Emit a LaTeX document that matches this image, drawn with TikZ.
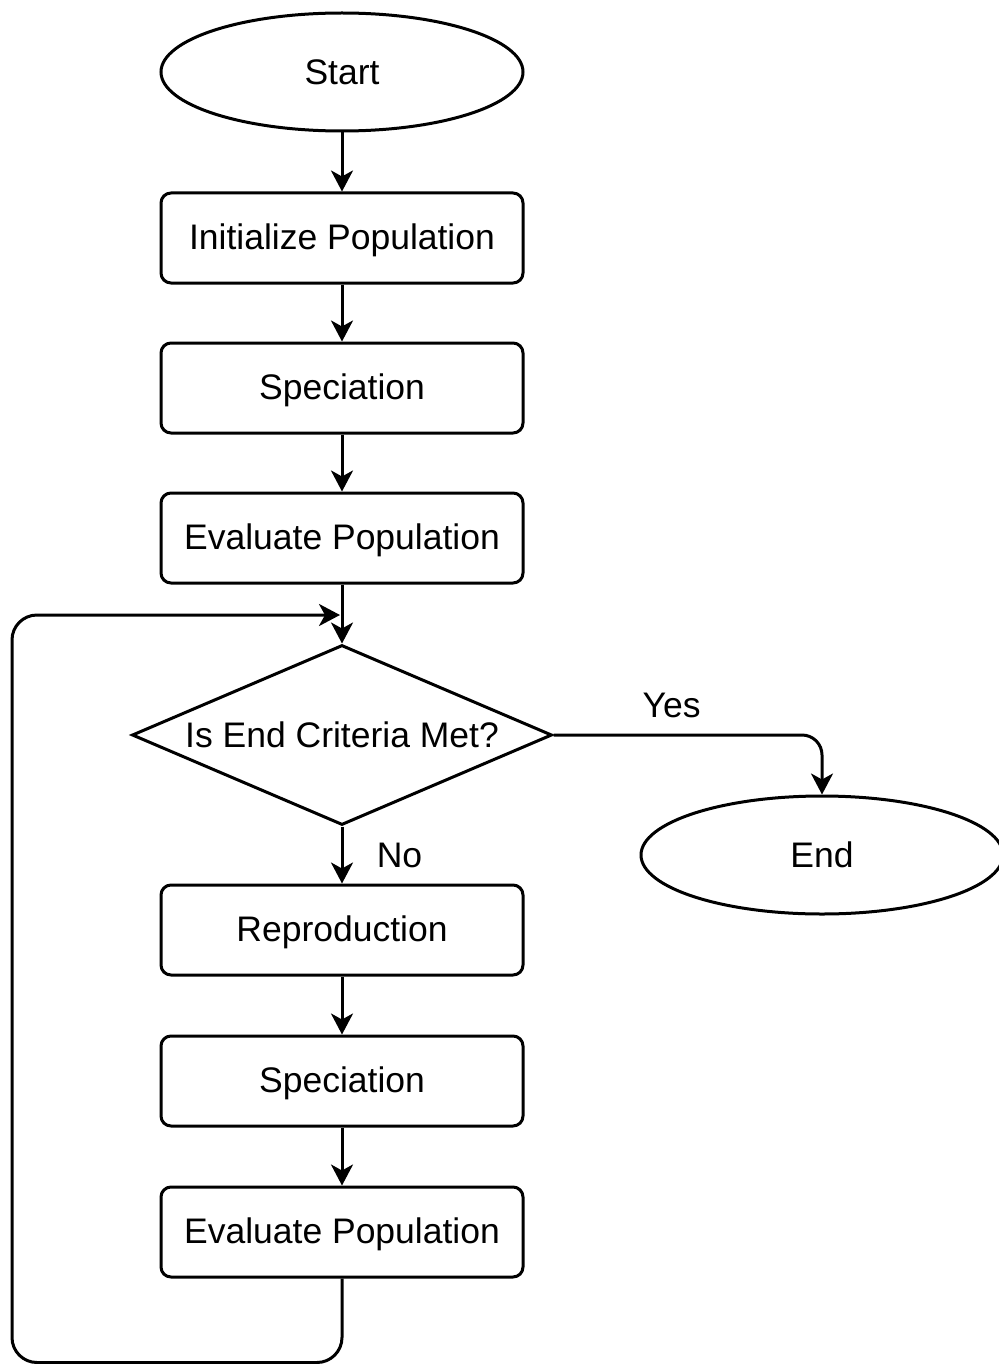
\documentclass[tikz,border=0pt]{standalone}
\usepackage{fontspec}
\setmainfont{Liberation Sans}
\usetikzlibrary{arrows.meta,positioning,shapes.geometric}

\begin{document}
\begin{tikzpicture}[x=1pt,y=-1pt,
        every node/.style={font=\fontsize{35.5}{42}\selectfont},
        procbox/.style={draw,line width=3pt,rounded corners=10pt,minimum width=362pt,minimum height=90pt,inner sep=0pt,text depth=2pt},
        termbox/.style={draw,line width=3pt,ellipse,minimum width=362pt,minimum height=118pt,inner sep=0pt},
        decbox/.style={draw,line width=3pt,diamond,aspect=2.33,minimum width=420pt,minimum height=180pt,inner sep=0pt},
        arr/.style={line width=3pt,-{Stealth[length=21pt,width=22pt,inset=6pt]}}]
    \useasboundingbox (0,0) rectangle (998,1364);

    % main column
    \node[termbox] (start) at (342,72) {Start};
    \node[procbox] (init) at (342,238) {Initialize Population};
    \node[procbox] (spec1) at (342,388) {Speciation};
    \node[procbox] (eval1) at (342,538) {Evaluate Population};
    \node[decbox] (crit) at (342,735) {Is End Criteria Met?};
    \node[procbox] (repro) at (342,930) {Reproduction};
    \node[procbox] (spec2) at (342,1081) {Speciation};
    \node[procbox] (eval2) at (342,1232) {Evaluate Population};
    \node[termbox] (stop) at (822,855) {End};
    \coordinate (merge) at (340,615);

    \draw[arr] (start) -- (init);
    \draw[arr] (init) -- (spec1);
    \draw[arr] (spec1) -- (eval1);
    \draw[arr] (eval1) -- (crit);
    \draw[arr] (crit) -- (repro) node[pos=0.5,right=30pt] {No};
    \draw[arr] (repro) -- (spec2);
    \draw[arr] (spec2) -- (eval2);

    % exit and loop back
    \draw[arr,rounded corners=20pt] (crit.east) -| (stop.north) node[pos=0.22,above=12pt] {Yes};
    \draw[arr,rounded corners=25pt] (eval2.south) -- ++(0,84) -| (12,615) -- (merge);
\end{tikzpicture}
\end{document}
